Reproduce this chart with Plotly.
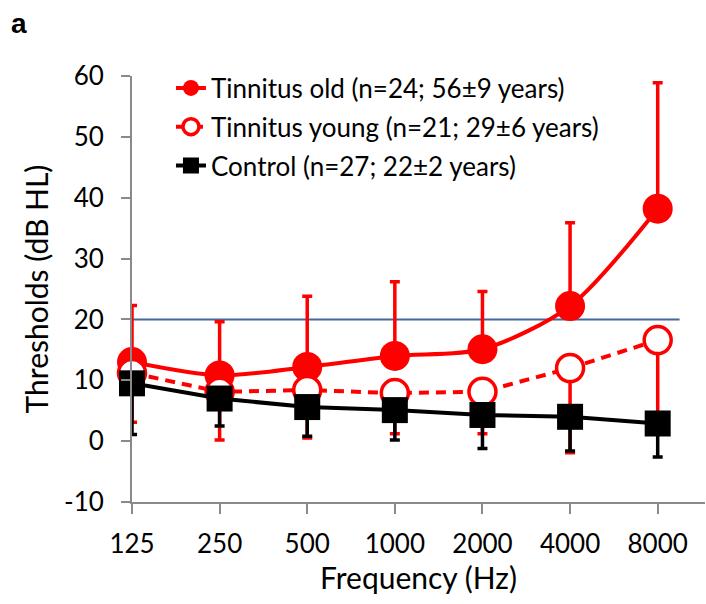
import plotly.graph_objects as go

# ---- data ----
frequencies = ["125", "250", "500", "1000", "2000", "4000", "8000"]
old_mean = [13.0, 10.8, 12.2, 14.0, 15.1, 22.2, 38.2]
old_sd = [9.3, 8.8, 11.6, 12.2, 9.5, 13.7, 20.7]
young_mean = [11.2, 8.1, 8.4, 7.9, 8.1, 12.0, 16.6]
young_sd = [8.1, 7.9, 7.9, 6.7, 6.9, 13.9, 14.0]
control_mean = [9.5, 7.0, 5.6, 5.1, 4.3, 4.0, 2.9]
control_sd = [8.4, 4.5, 4.8, 4.9, 5.5, 5.6, 5.5]
reference_level = 20
y_ticks = [-10, 0, 10, 20, 30, 40, 50, 60]

names = [
    "Tinnitus old (n=24; 56±9 years)",
    "Tinnitus young (n=21; 29±6 years)",
    "Control (n=27; 22±2 years)",
]

FONT = "Lato, 'Open Sans', sans-serif"
RED = "#FF0000"
AXIS = "#8A8A8A"

xi = list(range(len(frequencies)))
zeros = [0] * len(frequencies)

fig = go.Figure()

fig.add_trace(go.Scatter(
    x=xi, y=old_mean, name=names[0], legendgroup="g1",
    mode="lines+markers", cliponaxis=False,
    line=dict(color=RED, width=4, shape="spline", smoothing=0.8),
    marker=dict(symbol="circle", size=30, color=RED),
    error_y=dict(type="data", symmetric=False, array=old_sd, arrayminus=zeros,
                 color=RED, thickness=3.5, width=5),
))
fig.add_trace(go.Scatter(
    x=xi, y=young_mean, name=names[1], legendgroup="g2",
    mode="lines+markers", cliponaxis=False,
    line=dict(color=RED, width=4, dash="10px,7px"),
    marker=dict(symbol="circle", size=27, color="white", line=dict(color=RED, width=3.5)),
    error_y=dict(type="data", symmetric=False, array=zeros, arrayminus=young_sd,
                 color=RED, thickness=3.5, width=5),
))
fig.add_trace(go.Scatter(
    x=xi, y=control_mean, name=names[2], legendgroup="g3",
    mode="lines+markers", cliponaxis=False,
    line=dict(color="black", width=4),
    marker=dict(symbol="square", size=26, color="black"),
    error_y=dict(type="data", symmetric=False, array=zeros, arrayminus=control_sd,
                 color="black", thickness=3.5, width=5),
))

# reference line at 20 dB HL
fig.add_shape(type="line", xref="x", yref="y", x0=0, x1=6.25,
              y0=reference_level, y1=reference_level,
              line=dict(color="#46679A", width=2), layer="below")

fig.update_layout(
    width=706, height=604,
    margin=dict(l=132, r=1, t=76, b=102),
    paper_bgcolor="white", plot_bgcolor="white",
    font=dict(family=FONT, size=26, color="black"),
    showlegend=True,
    legend=dict(x=0.068, y=1.027, xanchor="left", yanchor="top",
                bgcolor="rgba(0,0,0,0)", tracegroupgap=2,
                font=dict(family=FONT, size=26)),
    xaxis=dict(
        range=[0, 6.54], tickmode="array", tickvals=xi, ticktext=frequencies,
        showgrid=False, zeroline=False, showline=True, linecolor=AXIS, linewidth=2,
        ticks="outside", ticklen=10, tickwidth=2, tickcolor=AXIS,
        ticklabelstandoff=8, automargin=False,
        tickfont=dict(family=FONT, size=26),
        title=dict(text="Frequency (Hz)", font=dict(family=FONT, size=30), standoff=10),
    ),
    yaxis=dict(
        range=[-10, 60], tickmode="array", tickvals=y_ticks,
        ticktext=[str(v) for v in y_ticks],
        showgrid=False, zeroline=False, showline=True, linecolor=AXIS, linewidth=2,
        ticks="outside", ticklen=9, tickwidth=2, tickcolor=AXIS,
        ticklabelstandoff=12, automargin=False,
        tickfont=dict(family=FONT, size=26),
        title=dict(text="Thresholds (dB HL)", font=dict(family=FONT, size=30), standoff=6),
    ),
    annotations=[dict(text="<b>a</b>", xref="paper", yref="paper", x=-0.215, y=1.165,
                      xanchor="left", yanchor="top", showarrow=False,
                      font=dict(family="Liberation Sans, Arial", size=28))],
)

fig.write_html("out.html", config={"displayModeBar": False},
               post_script="document.body.style.margin='0';")
